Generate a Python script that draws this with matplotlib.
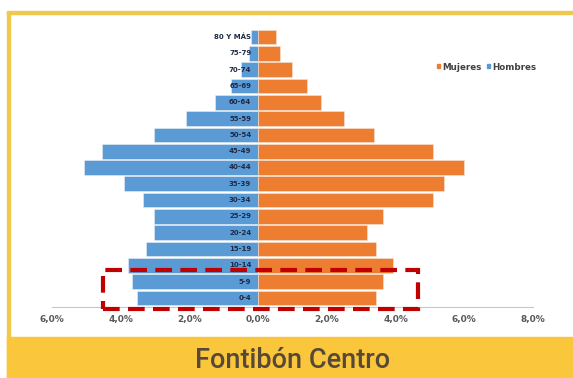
import matplotlib.pyplot as plt
from matplotlib.patches import Rectangle, Patch

# age groups, bottom to top
grupos = ["0-4", "5-9", "10-14", "15-19", "20-24", "25-29", "30-34", "35-39",
          "40-44", "45-49", "50-54", "55-59", "60-64", "65-69", "70-74",
          "75-79", "80 Y MÁS"]
# share of population (%)
hombres = [3.52, 3.68, 3.78, 3.27, 3.02, 3.02, 3.35, 3.89, 5.07, 4.54,
           3.04, 2.09, 1.27, 0.80, 0.50, 0.27, 0.20]
mujeres = [3.43, 3.62, 3.93, 3.43, 3.16, 3.62, 5.10, 5.40, 5.98, 5.08,
           3.38, 2.51, 1.84, 1.41, 0.99, 0.65, 0.53]
ticks = [-6, -4, -2, 0, 2, 4, 6, 8]
tick_labels = ["6,0%", "4,0%", "2,0%", "0,0%", "2,0%", "4,0%", "6,0%", "8,0%"]

azul = "#5B9BD5"
naranja = "#ED7D31"
amarillo = "#FAC63C"

W, H = 573, 378
fig = plt.figure(figsize=(W / 100, H / 100), dpi=100)
fig.patch.set_facecolor("white")

# yellow frame and bottom banner
fig.patches.append(Rectangle((7 / W, 1 - 14 / H), 1, 2.5 / H, transform=fig.transFigure,
                             color="#F0C84E", zorder=0))
fig.patches.append(Rectangle((7 / W, 0), 3 / W, 1 - 12 / H, transform=fig.transFigure,
                             color="#F0C84E", zorder=0))
fig.patches.append(Rectangle((7 / W, 0), 1, 41 / H, transform=fig.transFigure,
                             color=amarillo, zorder=0))
fig.text(293 / W, 18 / H, "Fontibón Centro", ha="center", va="center",
         fontsize=19.5, fontweight="medium", color="#574837", family="Roboto")

ax = fig.add_axes([52 / W, 1 - 307 / H, 481 / W, (307 - 28.8) / H])
ax.set_facecolor("none")

y = list(range(len(grupos)))
ax.barh(y, [-h for h in hombres], height=0.9, color=azul, edgecolor="#E8EEF5",
        linewidth=0.4, zorder=2)
ax.barh(y, mujeres, height=0.9, color=naranja, edgecolor="#F6E4D6",
        linewidth=0.4, zorder=2)

for yi, g in zip(y, grupos):
    ax.text(-0.2, yi, g, ha="right", va="center", fontsize=5, fontweight="bold",
            color="#1F2A44", family=["Liberation Sans Narrow", "DejaVu Sans"], zorder=3)

ax.set_xlim(-6, 8)
ax.set_ylim(-0.55, 16.5)
ax.set_xticks(ticks)
ax.set_xticklabels(tick_labels, fontsize=6.5, fontweight="bold", color="#595959")
ax.set_yticks([])
ax.tick_params(axis="x", length=0, pad=6)
for s in ["top", "right", "left"]:
    ax.spines[s].set_visible(False)
ax.spines["bottom"].set_color("#C8C8C8")
ax.spines["bottom"].set_linewidth(0.8)

handles = [Patch(color=naranja, label="Mujeres"), Patch(color=azul, label="Hombres")]
leg = ax.legend(handles=handles, ncol=2, frameon=False, fontsize=6.3,
                handlelength=0.35, handleheight=0.35, handletextpad=0.25,
                columnspacing=0.6, loc="center", bbox_to_anchor=((487 - 52) / 481, (307 - 67) / (307 - 28.8)))
for t in leg.get_texts():
    t.set_color("#404040")
    t.set_fontweight("bold")

# red dashed highlight box
fig.patches.append(Rectangle((103 / W, 1 - 309 / H), 315 / W, 39 / H, transform=fig.transFigure,
                             fill=False, edgecolor="#C00000", linewidth=3,
                             linestyle=(0, (4, 2)), zorder=5))

fig.savefig("out.png", dpi=100)
